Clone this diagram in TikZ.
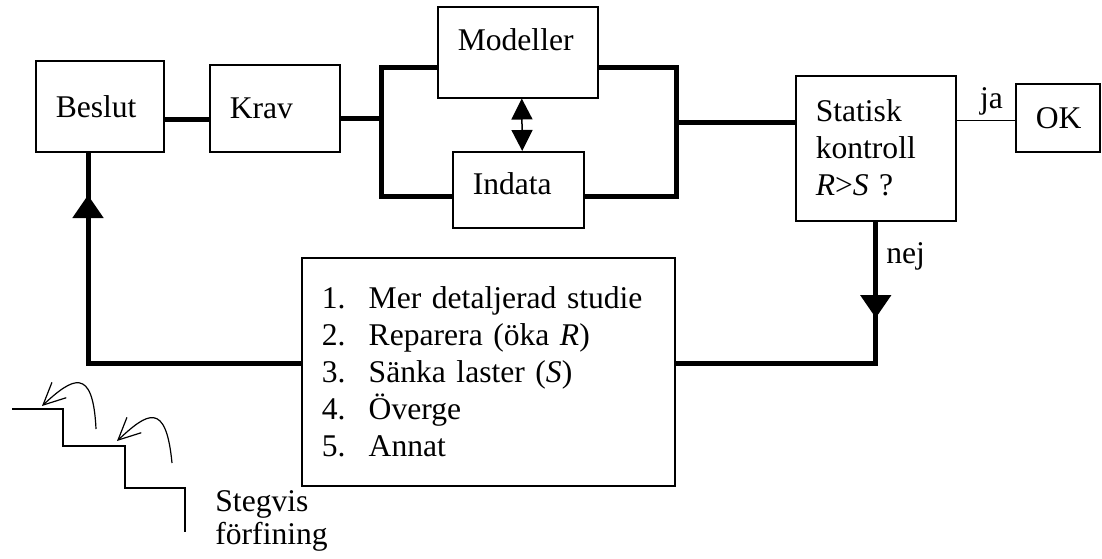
\documentclass[tikz,border=0pt]{standalone}
\usepackage{fontspec}
\setmainfont{Liberation Serif}
\usetikzlibrary{arrows.meta}
\newcommand{\itm}[2]{\makebox[23.5pt][l]{#1.}#2}

\begin{document}
\begin{tikzpicture}[x=0.5pt, y=-0.5pt, line join=miter,
    font=\fontsize{15.8}{18.5}\selectfont,
    blk/.style={draw, line width=0.75pt, anchor=north west, inner xsep=10pt, inner ysep=0pt, align=left},
    fb/.style={line width=2.5pt},
    fbtip/.style={fb, -{Triangle[width=15pt,length=11.5pt]}},
    dbl/.style={line width=0.75pt, {Triangle[width=10.5pt,length=10.5pt]}-{Triangle[width=10.5pt,length=10.5pt]}},
    tunn/.style={line width=0.6pt}]
    \useasboundingbox (0,0) rectangle (1102,558);

    % Hjälppunkter för ledningarna
    \coordinate (jL) at (381,118);
    \coordinate (jR) at (676,122);
    \coordinate (hi) at (0,67);
    \coordinate (lo) at (0,196);
    \coordinate (fbY) at (0,363);
    \coordinate (bx) at (88,0);
    \coordinate (tipL) at (0,195);
    \coordinate (tipR) at (0,318);

    % 1. Rutorna
    \node[blk, minimum width=64pt, minimum height=45.5pt, text width=44pt] (beslut) at (35,60) {Beslut};
    \node[blk, minimum width=65pt, minimum height=43.5pt, text width=45pt] (krav) at (209,64) {Krav};
    \node[blk, minimum width=80pt, minimum height=45.5pt, text width=60pt, text depth=13pt] (modeller) at (437,6) {Modeller};
    \node[blk, minimum width=65.5pt, minimum height=38pt, text width=45.5pt, text depth=6pt] (indata) at (452,151) {Indata};
    \node[blk, minimum width=80pt, minimum height=72.5pt, text width=60pt] (statisk) at (795,75) {Statisk\\kontroll\\\textit{R}>\textit{S} ?};
    \node[blk, minimum width=42pt, minimum height=34pt, text width=22pt] (ok) at (1015,83) {OK};
    \node[blk, minimum width=186.5pt, minimum height=114pt, text width=166.5pt] (atgard) at (301,257)
        {\itm{1}{Mer detaljerad studie}\\\itm{2}{Reparera (öka \textit{R})}\\\itm{3}{Sänka laster (\textit{S})}\\\itm{4}{Överge}\\\itm{5}{Annat}};

    % 2. Huvudflödet
    \draw[fb] (beslut.east |- 0,119) -- (krav.west |- 0,119);
    \draw[fb] (krav.east |- jL) -- (jL) |- (modeller.west |- hi);
    \draw[fb] (jL) |- (indata.west |- lo);
    \draw[fb] (modeller.east |- hi) -| (jR) -- (statisk.west |- jR);
    \draw[fb] (indata.east |- lo) -| (jR);
    \draw[dbl] ([xshift=2pt]modeller.south) -- ([xshift=2pt]indata.north);
    \draw[line width=0.5pt] (statisk.east |- 0,120) -- (ok.west |- 0,120) node[pos=0.6, above, inner sep=2pt] {ja};

    % 3. Återkopplingen
    \draw[fb] (statisk.south) |- (atgard.east |- fbY);
    \draw[fbtip] (statisk.south) -- (statisk.south |- tipR) node[pos=0.36, right, inner sep=4pt] {nej};
    \draw[fb] (atgard.west |- fbY) -| (beslut.south -| bx);
    \draw[fbtip] (bx |- fbY) -- (bx |- tipL);

    % 4. Trappan
    \draw[line width=0.75pt] (12,409) -- (63,409) -- (63,446) -- (125,446) -- (125,488) -- (185,488) -- (185,532);
    \draw[tunn, -{Straight Barb[length=11pt,width=10.5pt]}] (96,429) .. controls (93,365) and (72,378) .. (42,406);
    \draw[tunn, -{Straight Barb[length=11pt,width=10.5pt]}] (172,463) .. controls (166,400) and (147,413) .. (117,441);
    \node[anchor=west, inner sep=0pt, align=left, font=\fontsize{15.8}{16.5}\selectfont] (stegvis) at (215,521) {Stegvis\\förfining};
\end{tikzpicture}
\end{document}
